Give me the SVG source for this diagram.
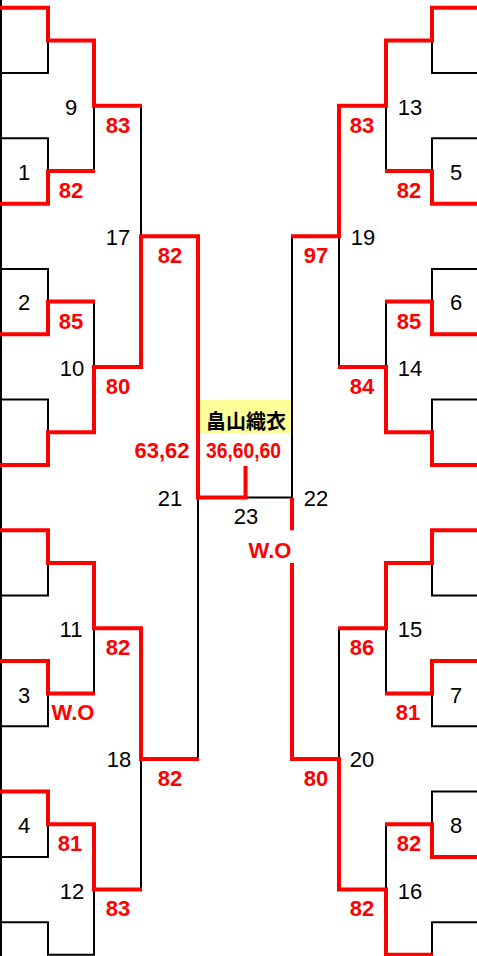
<svg xmlns="http://www.w3.org/2000/svg" width="477" height="956" viewBox="0 0 477 956">
<style>
.k{fill:none;stroke:#000;stroke-width:2}
.r{fill:none;stroke:#f00;stroke-width:4;stroke-linejoin:miter}
.n{font-family:"Liberation Sans",Arial,sans-serif;font-size:22px;fill:#000;text-anchor:middle}
.s{font-family:"Liberation Sans",Arial,sans-serif;font-size:22px;font-weight:bold;fill:#f00;text-anchor:middle}
.nm{font-family:"Noto Sans CJK JP","Noto Sans CJK SC",sans-serif;font-size:20px;font-weight:bold;fill:#000;text-anchor:middle}
</style>
<rect width="477" height="956" fill="#fff"/>
<g id="connectors">
<path class="k" d="M1 0 V956"/>
<path class="k" d="M48 40.4 V73 H0"/>
<path class="k" d="M0 138.3 H48 V171"/>
<path class="k" d="M94 105.7 V171"/>
<path class="k" d="M141 105.7 V236.3"/>
<path class="k" d="M0 269 H48 V301.6"/>
<path class="k" d="M94 301.6 V367"/>
<path class="k" d="M0 399.6 H48 V432.3"/>
<path class="k" d="M198 497.6 V758.9"/>
<path class="k" d="M48 562.9 V595.6 H0"/>
<path class="k" d="M94 628.2 V693.6"/>
<path class="k" d="M48 693.6 V726.2 H0"/>
<path class="k" d="M141 758.9 V889.5"/>
<path class="k" d="M48 824.2 V856.9 H0"/>
<path class="k" d="M0 922.2 H48 V954.8 H94 V889.5"/>
<path class="k" d="M432 40.4 V73 H477"/>
<path class="k" d="M477 138.3 H432 V171"/>
<path class="k" d="M386 105.7 V171"/>
<path class="k" d="M477 269 H432 V301.6"/>
<path class="k" d="M386 301.6 V367"/>
<path class="k" d="M339 236.3 V367"/>
<path class="k" d="M477 399.6 H432 V432.3"/>
<path class="k" d="M292 236.3 V497.6 H245.5"/>
<path class="k" d="M432 562.9 V595.6 H477"/>
<path class="k" d="M386 628.2 V693.6"/>
<path class="k" d="M339 628.2 V758.9"/>
<path class="k" d="M432 693.6 V726.2 H477"/>
<path class="k" d="M477 791.5 H432 V824.2"/>
<path class="k" d="M386 824.2 V889.5"/>
<path class="k" d="M477 922.2 H432 V954.8"/>
<path class="r" d="M0 7.7 H48 V40.4 H94 V105.7 H142"/>
<path class="r" d="M0 203.7 H48 V171 H95"/>
<path class="r" d="M0 334.3 H48 V301.6 H95"/>
<path class="r" d="M0 464.9 H48 V432.3 H94 V367 H141 V236.3 H198 V497.6 H245.5 V466"/>
<path class="r" d="M0 530.3 H48 V562.9 H94 V628.2 H141 V758.9 H199"/>
<path class="r" d="M0 660.9 H48 V693.6 H95"/>
<path class="r" d="M0 791.5 H48 V824.2 H94 V889.5 H142"/>
<path class="r" d="M477 7.7 H432 V40.4 H386 V105.7 H339 V236.3 H291"/>
<path class="r" d="M477 203.7 H432 V171 H385"/>
<path class="r" d="M477 334.3 H432 V301.6 H385"/>
<path class="r" d="M477 464.9 H432 V432.3 H386 V367 H338"/>
<path class="r" d="M477 530.3 H432 V562.9 H386 V628.2 H338"/>
<path class="r" d="M477 660.9 H432 V693.6 H385"/>
<path class="r" d="M477 856.9 H432 V824.2 H385"/>
<path class="r" d="M433 954.8 H386 V889.5 H339 V758.9 H292 V562.9"/>
<path class="r" d="M292 497.6 V530.3"/>
</g>
<g id="p1"><text class="n" x="24" y="180">1</text><text class="s" x="71" y="198">82</text></g>
<g id="p2"><text class="n" x="24" y="310">2</text><text class="s" x="71" y="329">85</text></g>
<g id="p3"><text class="n" x="24" y="703">3</text><text class="s" x="73" y="720">W.O</text></g>
<g id="p4"><text class="n" x="24" y="833">4</text><text class="s" x="70" y="851">81</text></g>
<g id="p5"><text class="n" x="456" y="180">5</text><text class="s" x="409" y="198">82</text></g>
<g id="p6"><text class="n" x="456" y="310">6</text><text class="s" x="409" y="329">85</text></g>
<g id="p7"><text class="n" x="456" y="703">7</text><text class="s" x="408" y="720">81</text></g>
<g id="p8"><text class="n" x="456" y="833">8</text><text class="s" x="409" y="851">82</text></g>
<g id="m9"><text class="n" x="71" y="115">9</text><text class="s" x="118" y="133">83</text></g>
<g id="m10"><text class="n" x="72" y="376">10</text><text class="s" x="118" y="394">80</text></g>
<g id="m11"><text class="n" x="71" y="637">11</text><text class="s" x="118" y="655">82</text></g>
<g id="m12"><text class="n" x="72" y="899">12</text><text class="s" x="118" y="916">83</text></g>
<g id="m13"><text class="n" x="410" y="115">13</text><text class="s" x="362" y="133">83</text></g>
<g id="m14"><text class="n" x="410" y="376">14</text><text class="s" x="362" y="394">84</text></g>
<g id="m15"><text class="n" x="410" y="637">15</text><text class="s" x="362" y="655">86</text></g>
<g id="m16"><text class="n" x="410" y="899">16</text><text class="s" x="362" y="916">82</text></g>
<g id="m17"><text class="n" x="118" y="245">17</text><text class="s" x="170" y="263">82</text></g>
<g id="m18"><text class="n" x="119" y="767">18</text><text class="s" x="170" y="786">82</text></g>
<g id="m19"><text class="n" x="363" y="245">19</text><text class="s" x="316" y="263">97</text></g>
<g id="m20"><text class="n" x="362" y="767">20</text><text class="s" x="316" y="786">80</text></g>
<g id="m21"><text class="n" x="170" y="506">21</text><text class="s" x="162" y="458">63,62</text></g>
<g id="m22"><text class="n" x="316" y="506">22</text><text class="s" x="270" y="558">W.O</text></g>
<g id="m23"><text class="n" x="246" y="524">23</text></g>
<g id="champion"><rect x="200" y="400" width="91" height="33" fill="#ffff99"/><text class="nm" x="246" y="429">畠山織衣</text><text class="s" x="243.5" y="458" textLength="75" lengthAdjust="spacingAndGlyphs">36,60,60</text></g>
</svg>
